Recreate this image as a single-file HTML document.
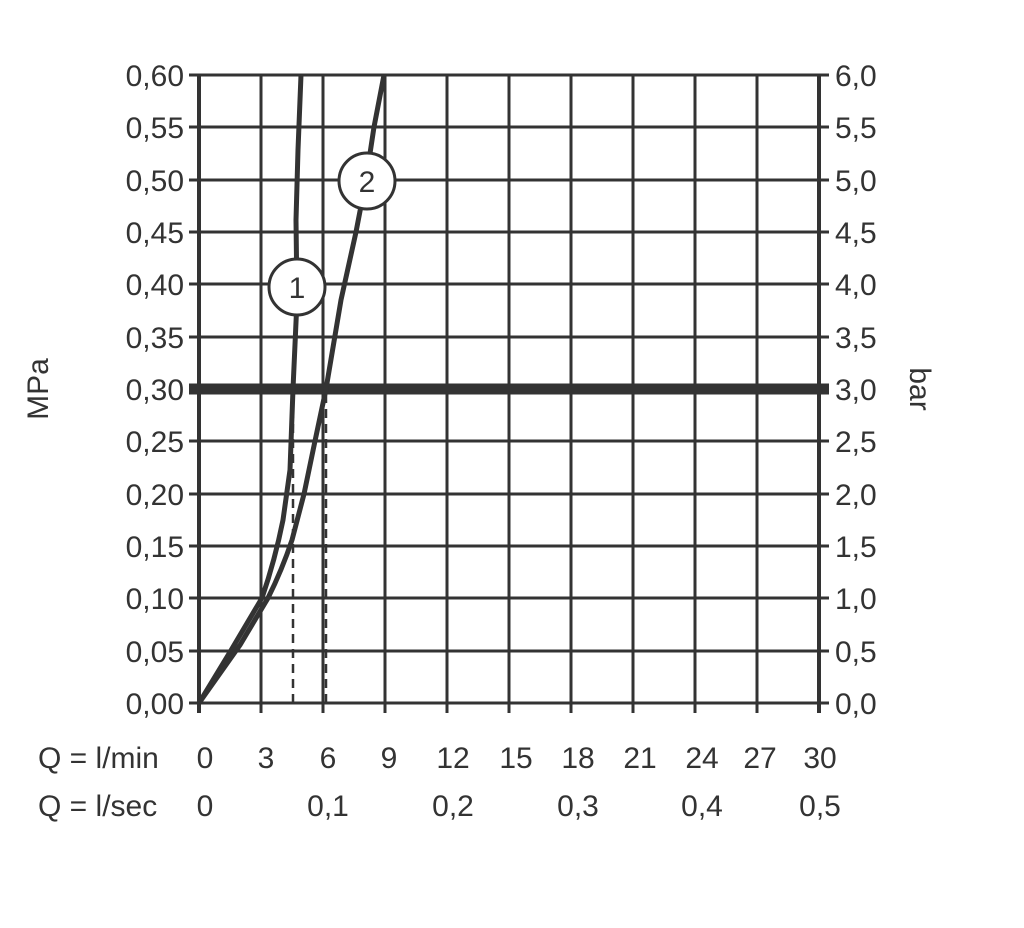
<!DOCTYPE html>
<html><head><style>body{margin:0;background:#fff}</style></head><body>
<svg width="1024" height="923" xmlns="http://www.w3.org/2000/svg" font-family="Liberation Sans, sans-serif" fill="#333">
<g stroke="#333" stroke-width="3">
<line x1="199" y1="75" x2="819" y2="75"/><line x1="189" y1="127" x2="829" y2="127"/><line x1="189" y1="180" x2="829" y2="180"/><line x1="189" y1="232" x2="829" y2="232"/><line x1="189" y1="284" x2="829" y2="284"/><line x1="189" y1="337" x2="829" y2="337"/><line x1="189" y1="441" x2="829" y2="441"/><line x1="189" y1="494" x2="829" y2="494"/><line x1="189" y1="546" x2="829" y2="546"/><line x1="189" y1="598" x2="829" y2="598"/><line x1="189" y1="651" x2="829" y2="651"/><line x1="189" y1="703" x2="829" y2="703"/>
<line x1="189" y1="75" x2="199" y2="75"/><line x1="819" y1="75" x2="829" y2="75"/>
<line x1="199" y1="75" x2="199" y2="713" stroke-width="4"/><line x1="261" y1="75" x2="261" y2="713"/><line x1="323" y1="75" x2="323" y2="713"/><line x1="385" y1="75" x2="385" y2="713"/><line x1="447" y1="75" x2="447" y2="713"/><line x1="509" y1="75" x2="509" y2="713"/><line x1="571" y1="75" x2="571" y2="713"/><line x1="633" y1="75" x2="633" y2="713"/><line x1="695" y1="75" x2="695" y2="713"/><line x1="757" y1="75" x2="757" y2="713"/><line x1="819" y1="75" x2="819" y2="713" stroke-width="4"/>
<line x1="189" y1="389" x2="829" y2="389" stroke-width="11"/>
<line x1="293" y1="394" x2="293" y2="703" stroke-dasharray="9,6" stroke-width="2.5"/><line x1="326" y1="394" x2="326" y2="703" stroke-dasharray="9,6" stroke-width="2.5"/>
<path d="M199 703 L230 652 L262 598 Q275 560 283 520 L290 470 L293 389 L297 300 L296 220 L298 150 L301 75" fill="none" stroke-width="5"/>
<path d="M199 703 L240 645 L268 598 Q282 570 292 540 L304 494 L315 441 L326 389 L341 300 L356 232 L366 180 L374 127 L384 75" fill="none" stroke-width="5"/>
<circle cx="297" cy="287" r="28" fill="#fff" stroke-width="3"/><circle cx="367" cy="181" r="28" fill="#fff" stroke-width="3"/>
</g>
<g font-size="30">
<text x="297" y="298" text-anchor="middle">1</text><text x="367" y="192" text-anchor="middle">2</text>
<g text-anchor="end"><text x="184" y="86">0,60</text><text x="184" y="138">0,55</text><text x="184" y="191">0,50</text><text x="184" y="243">0,45</text><text x="184" y="295">0,40</text><text x="184" y="348">0,35</text><text x="184" y="400">0,30</text><text x="184" y="452">0,25</text><text x="184" y="505">0,20</text><text x="184" y="557">0,15</text><text x="184" y="609">0,10</text><text x="184" y="662">0,05</text><text x="184" y="714">0,00</text></g>
<g><text x="835" y="86">6,0</text><text x="835" y="138">5,5</text><text x="835" y="191">5,0</text><text x="835" y="243">4,5</text><text x="835" y="295">4,0</text><text x="835" y="348">3,5</text><text x="835" y="400">3,0</text><text x="835" y="452">2,5</text><text x="835" y="505">2,0</text><text x="835" y="557">1,5</text><text x="835" y="609">1,0</text><text x="835" y="662">0,5</text><text x="835" y="714">0,0</text></g>
<text transform="translate(48,389) rotate(-90)" text-anchor="middle">MPa</text>
<text transform="translate(910,389) rotate(90)" text-anchor="middle">bar</text>
<text x="38" y="768">Q = l/min</text><text x="38" y="816">Q = l/sec</text>
<g text-anchor="middle"><text x="205" y="768">0</text><text x="266" y="768">3</text><text x="328" y="768">6</text><text x="389" y="768">9</text><text x="453" y="768">12</text><text x="516" y="768">15</text><text x="578" y="768">18</text><text x="640" y="768">21</text><text x="702" y="768">24</text><text x="760" y="768">27</text><text x="820" y="768">30</text>
<text x="205" y="816">0</text><text x="328" y="816">0,1</text><text x="453" y="816">0,2</text><text x="578" y="816">0,3</text><text x="702" y="816">0,4</text><text x="820" y="816">0,5</text></g>
</g>
</svg>
</body></html>
